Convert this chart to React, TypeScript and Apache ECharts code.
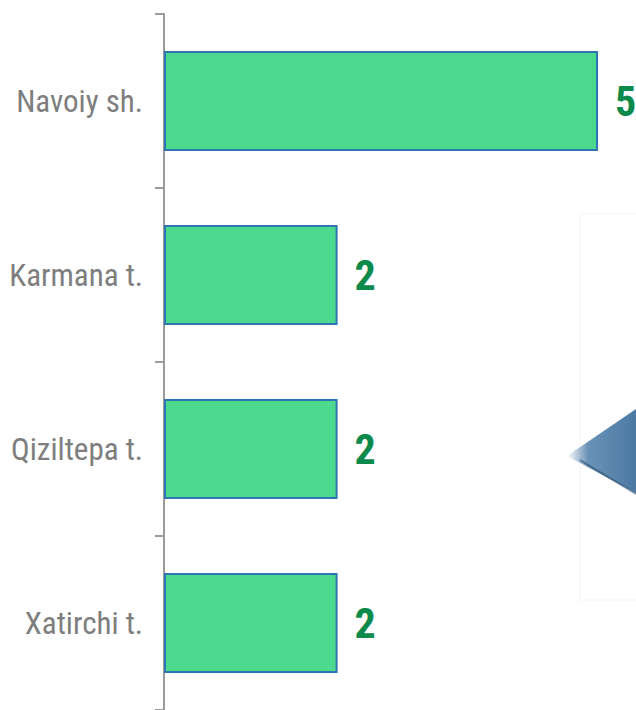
import React, { useEffect, useRef } from "react";
import * as echarts from "echarts";

const categories = ["Navoiy sh.", "Karmana t.", "Qiziltepa t.", "Xatirchi t."];
const values = [5, 2, 2, 2];

export default function App() {
  const ref = useRef<HTMLDivElement>(null);
  useEffect(() => {
    const chart = echarts.init(ref.current!, null, { renderer: "svg" });
    chart.setOption({
      animation: false,
      backgroundColor: "#ffffff",
      grid: { left: 164, right: 38, top: 14, bottom: 0 },
      xAxis: { type: "value", min: 0, max: 5, show: false },
      yAxis: {
        type: "category",
        data: categories,
        inverse: true,
        axisLine: { show: true, lineStyle: { color: "#9a9a9a", width: 2 } },
        axisTick: { show: true, length: 9, lineStyle: { color: "#9a9a9a", width: 2 } },
        axisLabel: {
          color: "#7e7e7e",
          fontSize: 31,
          fontFamily: "'Roboto Condensed', Roboto, sans-serif",
          margin: 21,
        },
      },
      graphic: [
        {
          type: "rect",
          shape: { x: 580, y: 214, width: 80, height: 386 },
          style: { fill: "none", stroke: "#f9f9f9", lineWidth: 2 },
          z: 0,
        },
        {
          type: "polygon",
          shape: { points: [[567, 456], [636, 409], [636, 493]] },
          style: {
            fill: new echarts.graphic.LinearGradient(0, 0, 1, 0, [
              { offset: 0, color: "#ffffff" },
              { offset: 0.3, color: "#6a92b7" },
              { offset: 1, color: "#4b79a3" },
            ]),
          },
          z: 1,
        },
        {
          type: "polyline",
          shape: { points: [[580, 460], [636, 494]] },
          style: { stroke: "#2f4f6c", lineWidth: 2, opacity: 0.6 },
          z: 1,
        },
      ],
      series: [
        {
          type: "bar",
          data: values,
          barWidth: 100,
          itemStyle: { color: "#4CD98E", borderColor: "#2E75B6", borderWidth: 2 },
          label: {
            show: true,
            position: "right",
            distance: 17,
            fontSize: 42,
            fontWeight: "bold",
            color: "#0B8A4B",
            fontFamily: "'Roboto Condensed', 'Liberation Sans Narrow', Roboto, sans-serif",
          },
        },
      ],
    });
    return () => chart.dispose();
  }, []);
  return (
    <div
      ref={ref}
      style={{ position: "absolute", left: 0, top: 0, width: 636, height: 710 }}
    />
  );
}
